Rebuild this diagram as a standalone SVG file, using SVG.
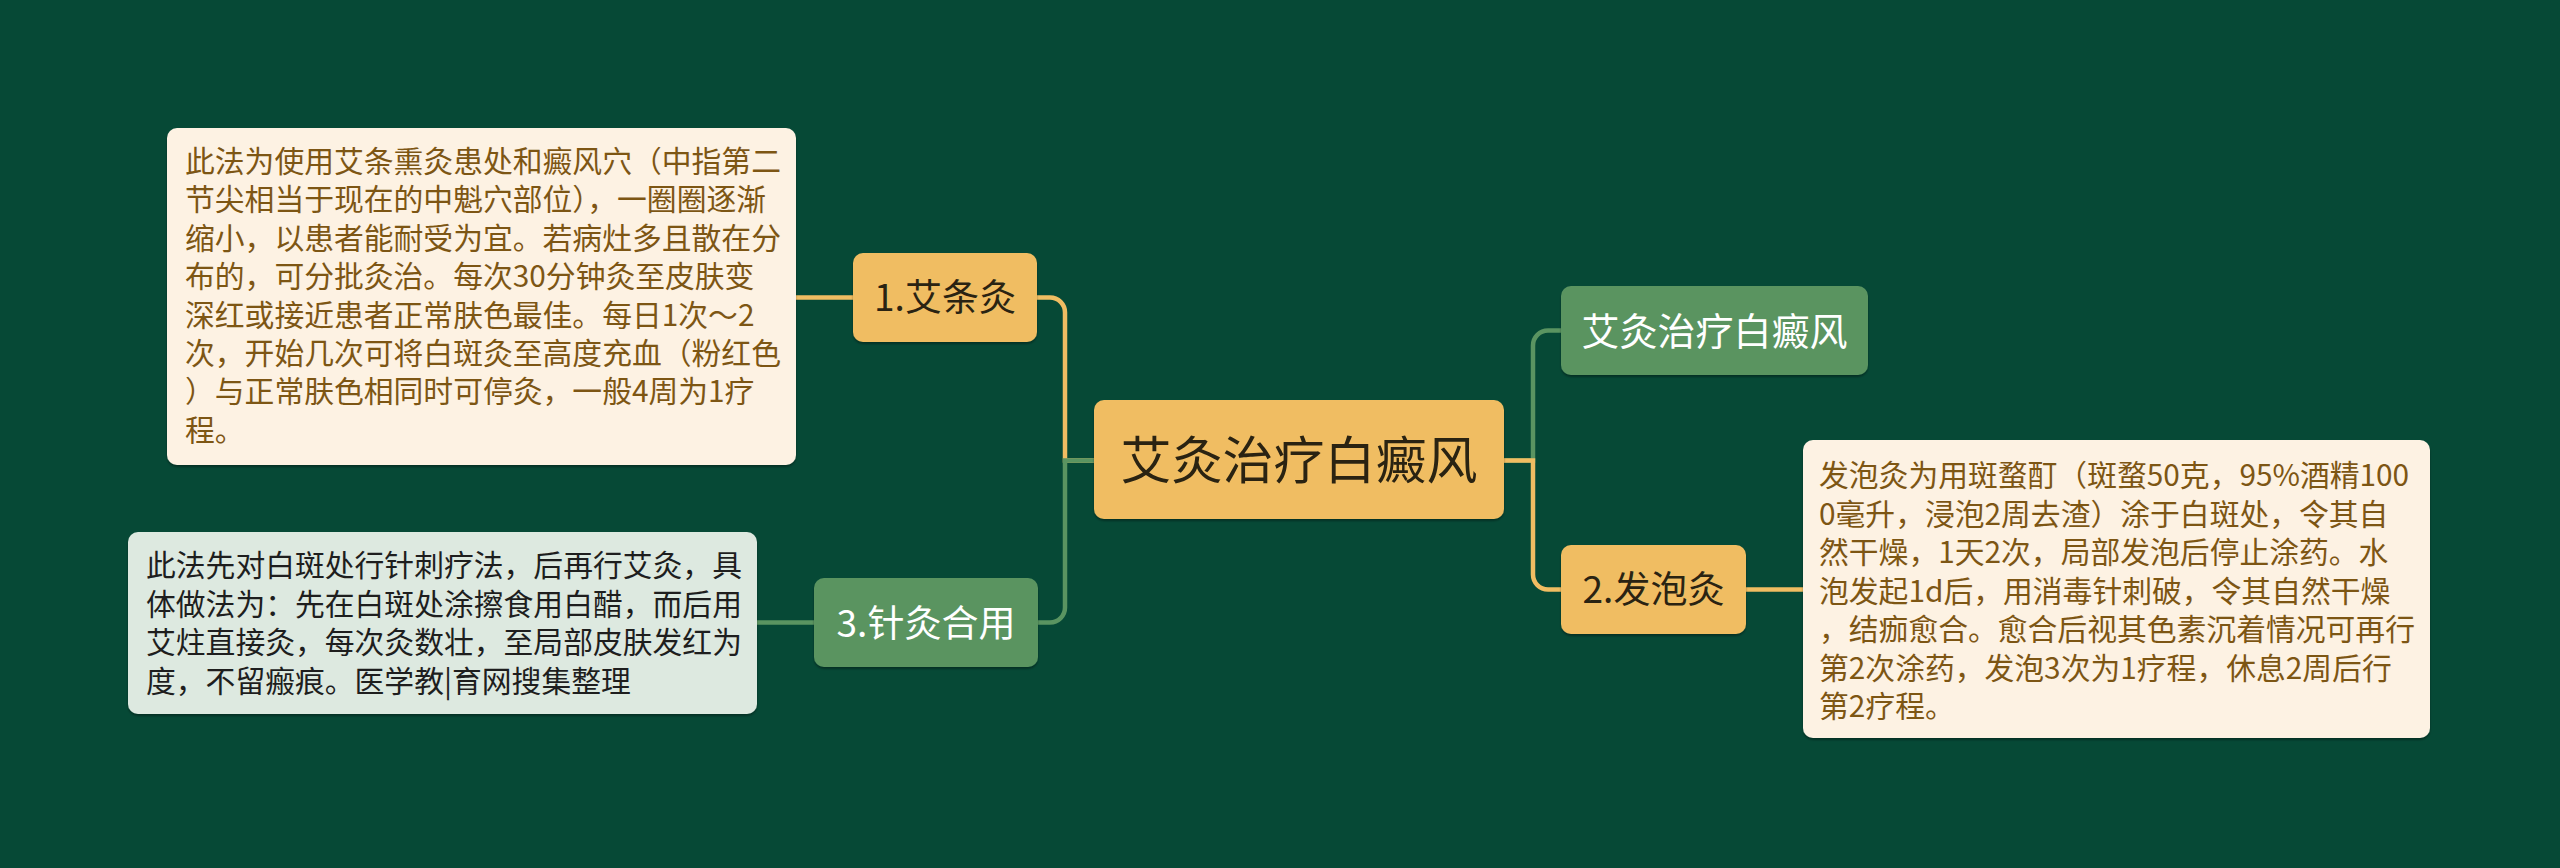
<svg xmlns="http://www.w3.org/2000/svg" width="2560" height="868" viewBox="0 0 2560 868">
<defs>
<filter id="sh" x="-10%" y="-10%" width="120%" height="130%">
<feDropShadow dx="0" dy="2" stdDeviation="1.2" flood-color="#000" flood-opacity="0.35"/>
</filter>
<style>
text{font-family:"Noto Sans CJK SC","Microsoft YaHei","Noto Sans",sans-serif;}
.c{fill:none;stroke-width:4.5;}
.co{stroke:#f0bd62;}
.cg{stroke:#5a9461;}
.orange{fill:#f0bd62;filter:url(#sh);}
.green{fill:#5a9461;filter:url(#sh);}
.cream{fill:#fdf2e3;filter:url(#sh);}
.mint{fill:#dde9e0;filter:url(#sh);}
.nt{font-size:37px;text-anchor:middle;}
.dark{fill:#2a2312;}
.white{fill:#ffffff;}
.bt{font-size:29.8px;}
.brown{fill:#7d5614;}
.blk{fill:#1e1e1e;}
</style>
</defs>
<rect width="2560" height="868" fill="#064936"/>
<g id="connectors">
<path class="c co" d="M1094 460.5 H1065 V312.5 A15 15 0 0 0 1050 297.5 H1037"/>
<path class="c co" d="M853 297.5 H796"/>
<path class="c cg" d="M1094 460.5 H1065 V607.5 A15 15 0 0 1 1050 622.5 H1037"/>
<path class="c cg" d="M814 622.5 H757"/>
<path class="c cg" d="M1504 460.5 H1533 V345.5 A15 15 0 0 1 1548 330.5 H1561"/>
<path class="c co" d="M1504 460.5 H1533 V574.5 A15 15 0 0 0 1548 589.5 H1561"/>
<path class="c co" d="M1746 589.5 H1803"/>
</g>
<g id="root">
<rect class="orange" x="1094" y="400" width="410" height="119" rx="10"/>
<text x="1299" y="479" font-size="51" text-anchor="middle" class="dark">艾灸治疗白癜风</text>
</g>
<g id="node-title-right">
<rect class="green" x="1561" y="286" width="307" height="89" rx="10"/>
<text x="1714.5" y="344.5" font-size="38" text-anchor="middle" class="white">艾灸治疗白癜风</text>
</g>
<g id="node-1">
<rect class="orange" x="853" y="253" width="184" height="89" rx="10"/>
<text x="945" y="311" class="nt dark">1.艾条灸</text>
</g>
<g id="node-2">
<rect class="orange" x="1561" y="545" width="185" height="89" rx="10"/>
<text x="1653.5" y="603" class="nt dark">2.发泡灸</text>
</g>
<g id="node-3">
<rect class="green" x="814" y="578" width="224" height="89" rx="10"/>
<text x="926" y="636.5" class="nt white">3.针灸合用</text>
</g>
<g id="note-1">
<rect class="cream" x="167" y="128" width="629" height="337" rx="10"/>
<text class="bt brown">
<tspan x="185" y="172">此法为使用艾条熏灸患处和癜风穴（中指第二</tspan>
<tspan x="185" y="210.4">节尖相当于现在的中魁穴部位），一圈圈逐渐</tspan>
<tspan x="185" y="248.8">缩小，以患者能耐受为宜。若病灶多且散在分</tspan>
<tspan x="185" y="287.2">布的，可分批灸治。每次30分钟灸至皮肤变</tspan>
<tspan x="185" y="325.6">深红或接近患者正常肤色最佳。每日1次～2</tspan>
<tspan x="185" y="364">次，开始几次可将白斑灸至高度充血（粉红色</tspan>
<tspan x="185" y="402.4">）与正常肤色相同时可停灸，一般4周为1疗</tspan>
<tspan x="185" y="440.8">程。</tspan>
</text>
</g>
<g id="note-3">
<rect class="mint" x="128" y="532" width="629" height="182" rx="10"/>
<text class="bt blk">
<tspan x="146" y="576">此法先对白斑处行针刺疗法，后再行艾灸，具</tspan>
<tspan x="146" y="614.5">体做法为：先在白斑处涂擦食用白醋，而后用</tspan>
<tspan x="146" y="653">艾炷直接灸，每次灸数壮，至局部皮肤发红为</tspan>
<tspan x="146" y="691.5">度，不留瘢痕。医学教|育网搜集整理</tspan>
</text>
</g>
<g id="note-2">
<rect class="cream" x="1803" y="440" width="627" height="298" rx="10"/>
<text class="bt brown">
<tspan x="1819" y="486">发泡灸为用斑蝥酊（斑蝥50克，95%酒精100</tspan>
<tspan x="1819" y="524.5">0毫升，浸泡2周去渣）涂于白斑处，令其自</tspan>
<tspan x="1819" y="563">然干燥，1天2次，局部发泡后停止涂药。水</tspan>
<tspan x="1819" y="601.5">泡发起1d后，用消毒针刺破，令其自然干燥</tspan>
<tspan x="1819" y="640">，结痂愈合。愈合后视其色素沉着情况可再行</tspan>
<tspan x="1819" y="678.5">第2次涂药，发泡3次为1疗程，休息2周后行</tspan>
<tspan x="1819" y="717">第2疗程。</tspan>
</text>
</g>
</svg>
